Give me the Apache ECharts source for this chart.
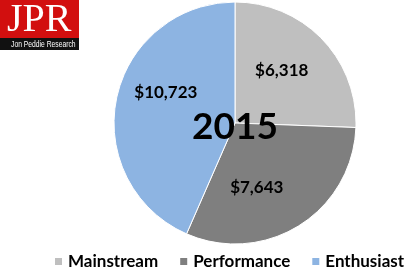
<!DOCTYPE html>
<html><head><meta charset="utf-8">
<script src="https://cdn.jsdelivr.net/npm/echarts@6/dist/echarts.min.js"></script>
<style>html,body{margin:0;padding:0;background:#fff}#c{width:411px;height:270px}</style>
</head><body><div id="c"></div>
<script>
const categories = ['Mainstream', 'Performance', 'Enthusiast'];
const values = [6318, 7643, 10723];
const labels = ['$6,318', '$7,643', '$10,723'];
const colors = ['#bfbfbf', '#7f7f7f', '#8db4e2'];
const centerTitle = '2015';
const labelShift = [[1, -8], [-12, 11], [-7, -17]];

const chart = echarts.init(document.getElementById('c'), null, {renderer: 'canvas'});
chart.setOption({
  animation: false,
  color: colors,
  legend: {
    data: categories,
    left: 53, top: 253, width: 358, padding: 0,
    icon: 'rect', itemWidth: 9, itemHeight: 9, itemGap: 20,
    textStyle: {fontFamily: 'Lato', fontWeight: 'bold', fontSize: 17, color: '#000'}
  },
  graphic: [
    {type: 'rect', x: 0, y: 0, shape: {width: 79, height: 38}, style: {fill: '#d20f0f'}},
    {type: 'rect', x: 0, y: 38, shape: {width: 79, height: 12}, style: {fill: '#111'}},
    {type: 'text', x: 7, y: 0, style: {text: 'JPR', fill: '#fff', font: '40px "Liberation Serif"'}},
    {type: 'text', x: 11, y: 40, scaleX: 0.75, style: {text: 'Jon Peddie Research', fill: '#fff', font: '9px "Liberation Sans"'}},
    {type: 'text', x: 235, y: 127, z: 10,
     style: {text: centerTitle, fill: '#000', font: 'bold 37px Lato', align: 'center', verticalAlign: 'middle'}}
  ],
  series: [{
    type: 'pie',
    center: [235, 123],
    radius: 121,
    startAngle: 90,
    clockwise: true,
    data: categories.map((c, i) => ({name: c, value: values[i], label: {formatter: labels[i]}})),
    itemStyle: {borderColor: '#fff', borderWidth: 1},
    label: {position: 'inside', color: '#000', fontFamily: 'Lato', fontWeight: 'bold', fontSize: 17},
    labelLine: {show: false},
    labelLayout: function (p) { return {dx: labelShift[p.dataIndex][0], dy: labelShift[p.dataIndex][1]}; }
  }]
});
</script></body></html>
